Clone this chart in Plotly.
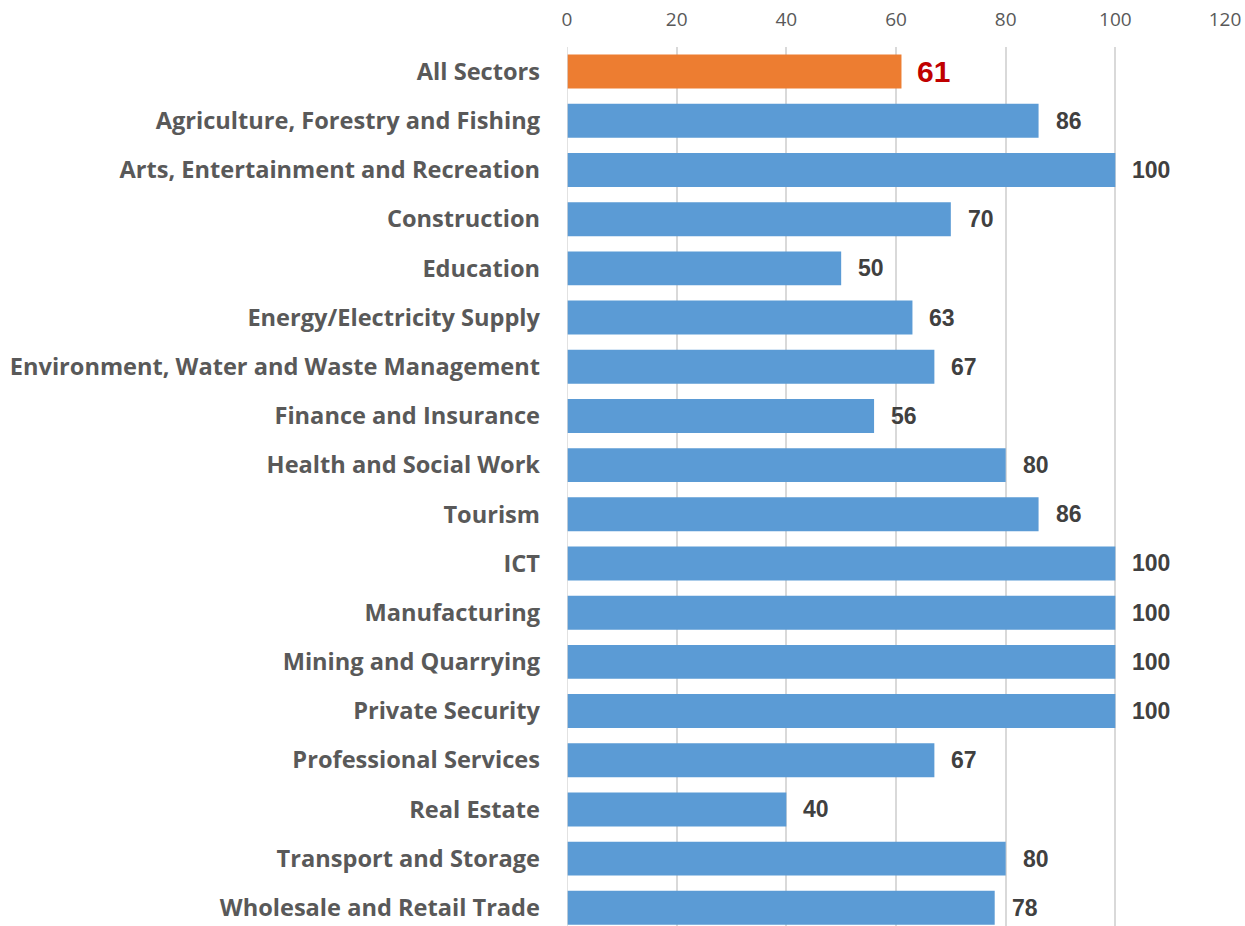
import plotly.graph_objects as go

# Sector names, top to bottom
sectors = [
    "All Sectors",
    "Agriculture, Forestry and Fishing",
    "Arts, Entertainment and Recreation",
    "Construction",
    "Education",
    "Energy/Electricity Supply",
    "Environment, Water and Waste Management",
    "Finance and Insurance",
    "Health and Social Work",
    "Tourism",
    "ICT",
    "Manufacturing",
    "Mining and Quarrying",
    "Private Security",
    "Professional Services",
    "Real Estate",
    "Transport and Storage",
    "Wholesale and Retail Trade",
]
values = [61, 86, 100, 70, 50, 63, 67, 56, 80, 86, 100, 100, 100, 100, 67, 40, 80, 78]
tick_values = [0, 20, 40, 60, 80, 100, 120]

ORANGE = "#ED7D31"
BLUE = "#5B9BD5"
bar_colors = [ORANGE if s == "All Sectors" else BLUE for s in sectors]

fig = go.Figure(
    go.Bar(
        x=values,
        y=sectors,
        orientation="h",
        marker=dict(color=bar_colors, line=dict(width=0)),
        width=0.69,
        hoverinfo="x+y",
    )
)

# Value labels beside each bar
for s, v in zip(sectors, values):
    highlight = s == "All Sectors"
    fig.add_annotation(
        x=v,
        y=s,
        text=f"<b>{v}</b>",
        showarrow=False,
        xanchor="left",
        yanchor="middle",
        xshift=14 if highlight else 15,
        font=dict(
            family="Liberation Sans, Arial, sans-serif",
            size=30 if highlight else 23,
            color="#C00000" if highlight else "#404040",
        ),
    )

fig.update_layout(
    width=1245,
    height=926,
    margin=dict(l=567, r=20, t=47, b=0),
    paper_bgcolor="white",
    plot_bgcolor="white",
    showlegend=False,
    xaxis=dict(
        side="top",
        range=[0, 120],
        tickvals=tick_values,
        showgrid=True,
        gridcolor="#D9D9D9",
        gridwidth=1.5,
        zeroline=False,
        showline=False,
        ticks="",
        tickfont=dict(family="Open Sans, sans-serif", size=19, color="#595959"),
        ticklabelstandoff=16,
    ),
    yaxis=dict(
        categoryorder="array",
        categoryarray=sectors,
        range=[17.37, -0.5],
        showgrid=False,
        zeroline=False,
        showline=False,
        ticks="",
        ticklabelstandoff=26,
        tickfont=dict(family="Open Sans, sans-serif", size=23.6, color="#595959", weight="bold"),
    ),
    bargap=0.31,
)

# Axis line along zero
fig.add_shape(
    type="line", xref="x", yref="paper", x0=0, x1=0, y0=0, y1=1,
    line=dict(color="#D9D9D9", width=1.5),
)

fig.write_html("out.html")
